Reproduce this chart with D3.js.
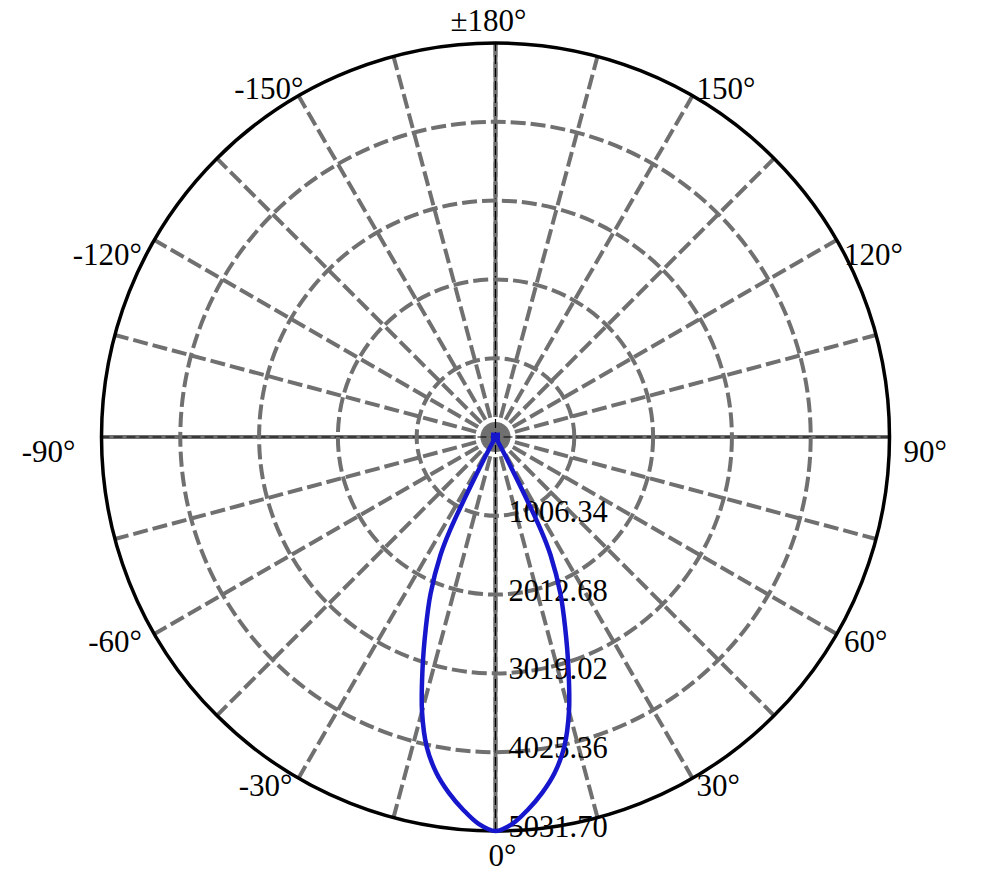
<!DOCTYPE html>
<html>
<head>
<meta charset="utf-8">
<script src="https://cdn.jsdelivr.net/npm/d3@7/dist/d3.min.js"></script>
<style>
  html, body { margin: 0; padding: 0; background: #ffffff; }
  svg { display: block; }
</style>
</head>
<body>
<svg id="chart" width="984" height="878"></svg>
<script>
// ---- data ----
const angleDeg = [-90, -80, -70, -60, -50, -40, -35, -30, -27.5, -26, -25, -22.5, -20, -17.5, -15, -12.5, -10, -7.5, -5, -2.5,
                  0, 2.5, 5, 7.5, 10, 12.5, 15, 17.5, 20, 22.5, 25, 26, 27.5, 30, 35, 40, 50, 60, 70, 80, 90];
const intensity = [0, 0, 0, 0, 0, 0, 0, 0, 300, 1330, 1660, 2168, 2605, 3098, 3626, 4055, 4354, 4581, 4775, 4945,
                   5031.70, 4945, 4775, 4581, 4354, 4055, 3626, 3098, 2605, 2168, 1660, 1330, 300, 0, 0, 0, 0, 0, 0, 0, 0];
const ringValues = [1006.34, 2012.68, 3019.02, 4025.36, 5031.70];
const ringLabels = ["1006.34", "2012.68", "3019.02", "4025.36", "5031.70"];
const spokeAngles = d3.range(0, 360, 15);
const angleLabelValues = [-150, -120, -90, -60, -30, 0, 30, 60, 90, 120, 150, 180];
const angleLabelText = ["-150°", "-120°", "-90°", "-60°", "-30°", "0°", "30°", "60°", "90°", "120°", "150°", "±180°"];

// ---- layout ----
const cx = 495.5, cy = 437, R = 394;
const svg = d3.select("#chart");
const g = svg.append("g").attr("transform", `translate(${cx},${cy})`);
const r = d3.scaleLinear().domain([0, 5031.70]).range([0, R]);
const rad = d => d * Math.PI / 180;
// 0° at bottom, +90° to the right
const px = (deg, rr) => rr * Math.sin(rad(deg));
const py = (deg, rr) => rr * Math.cos(rad(deg));

const grid = "#707070";
const serif = "'Liberation Serif', 'Times New Roman', serif";

// dashed spokes
g.append("g").selectAll("line")
  .data(spokeAngles)
  .join("line")
  .attr("x1", 0).attr("y1", 0)
  .attr("x2", d => px(d, R)).attr("y2", d => py(d, R))
  .attr("stroke", grid).attr("stroke-width", 4)
  .attr("stroke-dasharray", "15,5");

// solid gray axis lines with thin black dashes
const axisDirs = [0, 90, 180, 270];
g.append("g").selectAll("line")
  .data(axisDirs)
  .join("line")
  .attr("x1", d => px(d, R)).attr("y1", d => py(d, R))
  .attr("x2", d => px(d, 20)).attr("y2", d => py(d, 20))
  .attr("stroke", grid).attr("stroke-width", 4);
g.append("g").selectAll("line")
  .data([[0, 180], [90, 270]])
  .join("line")
  .attr("x1", d => px(d[0], R)).attr("y1", d => py(d[0], R))
  .attr("x2", d => px(d[1], R)).attr("y2", d => py(d[1], R))
  .attr("stroke", "#000").attr("stroke-width", 1.2)
  .attr("stroke-dasharray", "9,4");

// dashed rings
g.append("g").selectAll("circle")
  .data(ringValues.slice(0, -1))
  .join("circle")
  .attr("r", d => r(d))
  .attr("fill", "none")
  .attr("stroke", grid).attr("stroke-width", 4)
  .attr("stroke-dasharray", "15,5");

// outer circle
g.append("circle").attr("r", r(ringValues[ringValues.length - 1]))
  .attr("fill", "none").attr("stroke", "#000").attr("stroke-width", 3.5);

// ring labels
g.append("g").selectAll("text")
  .data(ringValues)
  .join("text")
  .attr("x", 13)
  .attr("y", d => r(d) + 6)
  .attr("font-family", serif).attr("font-size", 30.5)
  .attr("fill", "#000")
  .text((d, i) => ringLabels[i]);

// angle labels
g.append("g").selectAll("text")
  .data(angleLabelValues)
  .join("text")
  .each(function (d, i) {
    const s = Math.sin(rad(d)), c = Math.cos(rad(d));
    const x0 = px(d, R), y0 = py(d, R);
    let x, y, anchor;
    if (d === 0) { x = x0 + 7; y = y0 + 35; anchor = "middle"; }
    else if (d === 180) { x = x0 - 7; y = y0 - 12; anchor = "middle"; }
    else {
      const right = s > 0;
      const s8 = Math.pow(Math.abs(s), 8);
      const t = Math.max(0, Math.min(1, (-c - 0.5) / 0.366));
      const gap = right ? 4 + 10 * s8 : 6 + 20 * s8 - 11 * t;
      x = right ? x0 + gap : x0 - gap;
      anchor = right ? "start" : "end";
      y = c > 0.1 ? y0 + 18 : y0 + 25 - 22 * t;
    }
    d3.select(this)
      .attr("x", x).attr("y", y)
      .attr("text-anchor", anchor)
      .attr("font-family", serif).attr("font-size", 31)
      .attr("fill", "#000")
      .text(angleLabelText[i]);
  });

// intensity curve
const pts = angleDeg.map((a, i) => ({ a, v: intensity[i] }));
const line = d3.lineRadial()
  .angle(d => Math.PI - rad(d.a))
  .radius(d => r(d.v))
  .curve(d3.curveCatmullRom.alpha(0.5));
const blue = "#1616cc";
g.append("path")
  .attr("d", line(pts))
  .attr("fill", "none")
  .attr("stroke", blue).attr("stroke-width", 4.5)
  .attr("stroke-linejoin", "round");

// marker where the curve meets the origin
g.append("rect")
  .attr("x", px(0, r(0)) - 4.5).attr("y", py(0, r(0)) - 4.5)
  .attr("width", 9).attr("height", 9)
  .attr("fill", blue);
</script>
</body>
</html>
